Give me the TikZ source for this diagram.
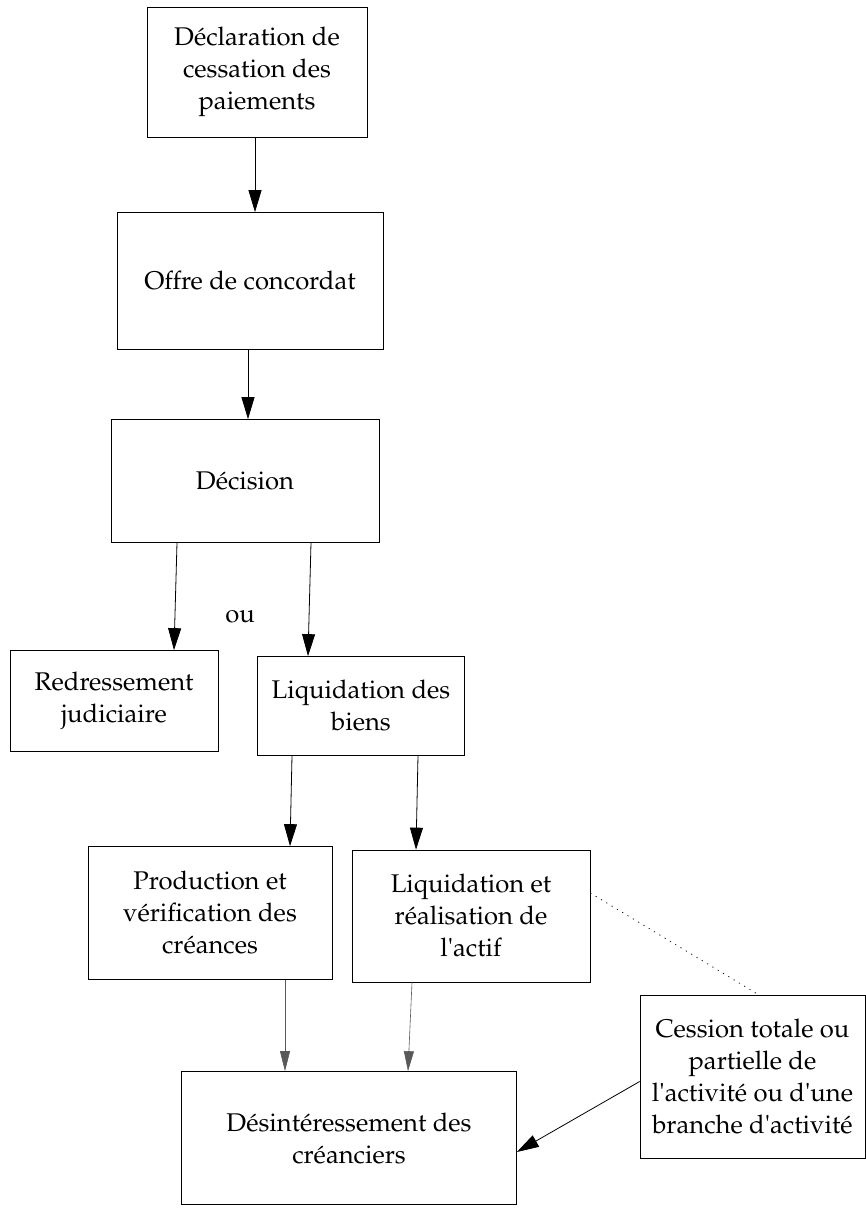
\documentclass[tikz,border=0pt]{standalone}
\usepackage[T1]{fontenc}
\usepackage{mathpazo}
\usetikzlibrary{arrows.meta}

\begin{document}
\begin{tikzpicture}[x=1pt, y=-1pt,
  box/.style={draw, line width=0.7pt, inner sep=0pt, align=center,
    font=\fontsize{25.6}{32}\selectfont},
  arr/.style={-{Triangle[length=22pt, width=13pt]}, line width=0.8pt},
  faintarr/.style={-{Triangle[length=20pt, width=10pt]}, line width=0.6pt, black!65}
]
  \useasboundingbox (0,0) rectangle (866,1211);

  \node[box, minimum width=220pt, minimum height=130pt] (decl) at (257,72)
    {Déclaration de\\cessation des\\paiements};
  \node[box, minimum width=266pt, minimum height=137pt] (offre) at (250,281)
    {Offre de concordat};
  \node[box, minimum width=268pt, minimum height=123pt] (decision) at (245,481)
    {Décision};
  \node[box, minimum width=208pt, minimum height=101pt] (redr) at (114,701)
    {Redressement\\judiciaire};
  \node[box, minimum width=207pt, minimum height=99pt] (liqb) at (361,706)
    {Liquidation des\\biens};
  \node[box, minimum width=244pt, minimum height=133pt] (prod) at (210,913)
    {Production et\\vérification des\\créances};
  \node[box, minimum width=238pt, minimum height=132pt] (liqa) at (471,916)
    {Liquidation et\\réalisation de\\l\textquotesingle actif};
  \node[box, minimum width=335pt, minimum height=133pt] (desint) at (349,1138)
    {Désintéressement des\\créanciers};
  \node[box, minimum width=225pt, minimum height=163pt] (cession) at (752.5,1076.5)
    {Cession totale ou\\partielle de\\l\textquotesingle activité ou d\textquotesingle une\\branche d\textquotesingle activité};
  \node[font=\fontsize{25.6}{32}\selectfont] (ou) at (240,617) {ou};

  \draw[arr] ([xshift=-2pt]decl.south) -- ([xshift=5pt]offre.north);
  \draw[arr] ([xshift=-2pt]offre.south) -- ([xshift=3pt]decision.north);
  \draw[arr] ([xshift=-68pt]decision.south) -- ([xshift=60pt]redr.north);
  \draw[arr] ([xshift=66pt]decision.south) -- ([xshift=-53pt]liqb.north);
  \draw[arr] ([xshift=-69pt]liqb.south) -- ([xshift=80pt]prod.north);
  \draw[arr] ([xshift=57pt]liqb.south) -- ([xshift=-55pt]liqa.north);
  \draw[faintarr] ([xshift=75pt]prod.south) -- ([xshift=-64pt]desint.north);
  \draw[faintarr] ([xshift=-59pt]liqa.south) -- ([xshift=59pt]desint.north);
  \draw[line width=0.7pt, dash pattern=on 1.2pt off 5pt] ([yshift=23pt]liqa.east) -- ([xshift=6pt]cession.north);
  \draw[arr] ([yshift=-5pt]cession.west) -- ([yshift=-14pt]desint.east);
\end{tikzpicture}
\end{document}
